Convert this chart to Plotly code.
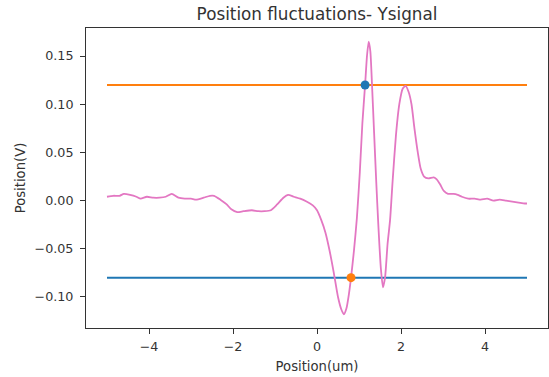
import plotly.graph_objects as go

# Signal data
pos_um = [-5.00, -4.85, -4.70, -4.60, -4.45, -4.30, -4.20, -4.05, -3.90, -3.75,
          -3.60, -3.46, -3.30, -3.15, -3.00, -2.88, -2.70, -2.55, -2.45, -2.30,
          -2.15, -2.04, -1.90, -1.75, -1.55, -1.40, -1.25, -1.10, -0.95, -0.80,
          -0.69, -0.55, -0.40, -0.25, -0.10, 0.00, 0.10, 0.20, 0.30, 0.40,
          0.50, 0.58, 0.64, 0.70, 0.76, 0.81, 0.88, 0.95, 1.02, 1.08,
          1.145, 1.19, 1.23, 1.27, 1.31, 1.36, 1.41, 1.46, 1.52, 1.57,
          1.62, 1.68, 1.74, 1.80, 1.88, 1.96, 2.04, 2.11, 2.18, 2.25,
          2.32, 2.40, 2.47, 2.55, 2.65, 2.78, 2.85, 2.93, 3.02, 3.12,
          3.25, 3.35, 3.45, 3.60, 3.75, 3.90, 4.05, 4.20, 4.35, 4.50,
          4.65, 4.80, 4.95, 5.00]
signal_v = [0.004, 0.005, 0.005, 0.007, 0.006, 0.004, 0.002, 0.004, 0.003, 0.003,
            0.004, 0.007, 0.003, 0.002, 0.002, 0.001, 0.003, 0.005, 0.005, 0.001,
            -0.004, -0.009, -0.012, -0.011, -0.010, -0.011, -0.011, -0.010, -0.004, 0.003,
            0.006, 0.004, 0.002, -0.001, -0.005, -0.010, -0.020, -0.033, -0.052, -0.075,
            -0.100, -0.113, -0.118, -0.112, -0.097, -0.080, -0.052, -0.018, 0.030, 0.080,
            0.120, 0.150, 0.165, 0.155, 0.120, 0.070, 0.020, -0.025, -0.070, -0.090,
            -0.080, -0.045, -0.020, 0.020, 0.068, 0.100, 0.116, 0.119, 0.113, 0.100,
            0.075, 0.050, 0.033, 0.025, 0.023, 0.024, 0.022, 0.017, 0.010, 0.007,
            0.007, 0.006, 0.004, 0.002, 0.002, 0.001, 0.002, 0.000, 0.001, 0.000,
            -0.001, -0.002, -0.003, -0.003]

# Threshold lines
line_x = [-5, 5]
upper_level = 0.12
lower_level = -0.08

# Crossing markers
upper_cross = (1.145, 0.12)
lower_cross = (0.81, -0.08)

x_ticks = [-4, -2, 0, 2, 4]
y_ticks = [-0.10, -0.05, 0.00, 0.05, 0.10, 0.15]

C0 = "#1f77b4"
C1 = "#ff7f0e"
C6 = "#e377c2"

fig = go.Figure()
fig.add_trace(go.Scatter(x=line_x, y=[lower_level] * 2, mode="lines",
                         line=dict(color=C0, width=2)))
fig.add_trace(go.Scatter(x=line_x, y=[upper_level] * 2, mode="lines",
                         line=dict(color=C1, width=2)))
fig.add_trace(go.Scatter(x=pos_um, y=signal_v, mode="lines",
                         line=dict(color=C6, width=1.8, shape="spline", smoothing=0.6)))
fig.add_trace(go.Scatter(x=[upper_cross[0]], y=[upper_cross[1]], mode="markers",
                         marker=dict(color=C0, size=9)))
fig.add_trace(go.Scatter(x=[lower_cross[0]], y=[lower_cross[1]], mode="markers",
                         marker=dict(color=C1, size=9)))

font_family = "DejaVu Sans"
text_color = "#333333"
fig.update_layout(
    width=549, height=377,
    margin=dict(l=86, r=1, t=27.5, b=48.5),
    paper_bgcolor="white", plot_bgcolor="white",
    showlegend=False,
    font=dict(family=font_family, size=12.7, color=text_color),
    title=dict(text="Position fluctuations- Ysignal", x=0.5, xref="paper",
               y=1 - 14.5 / 377, yref="container", xanchor="center", yanchor="middle",
               font=dict(size=16.8, family=font_family, color=text_color)),
)
fig.update_xaxes(range=[-5.5, 5.5], tickvals=x_ticks, ticks="outside", ticklen=5,
                 tickcolor="#333", showgrid=False, zeroline=False,
                 showline=True, mirror=True, linecolor="#333", linewidth=1,
                 ticklabelstandoff=2, tickfont=dict(size=12.7),
                 title=dict(text="Position(um)", standoff=8,
                            font=dict(size=13.2, family=font_family, color=text_color)))
fig.update_yaxes(range=[-0.1322, 0.1791], tickvals=y_ticks, tickformat=".2f",
                 ticks="outside", ticklen=5, tickcolor="#333", showgrid=False,
                 zeroline=False, showline=True, mirror=True, linecolor="#333",
                 linewidth=1, ticklabelstandoff=4, tickfont=dict(size=12.7),
                 title=dict(text="Position(V)", standoff=5,
                            font=dict(size=13.2, family=font_family, color=text_color)))

fig.write_html("out.html")
